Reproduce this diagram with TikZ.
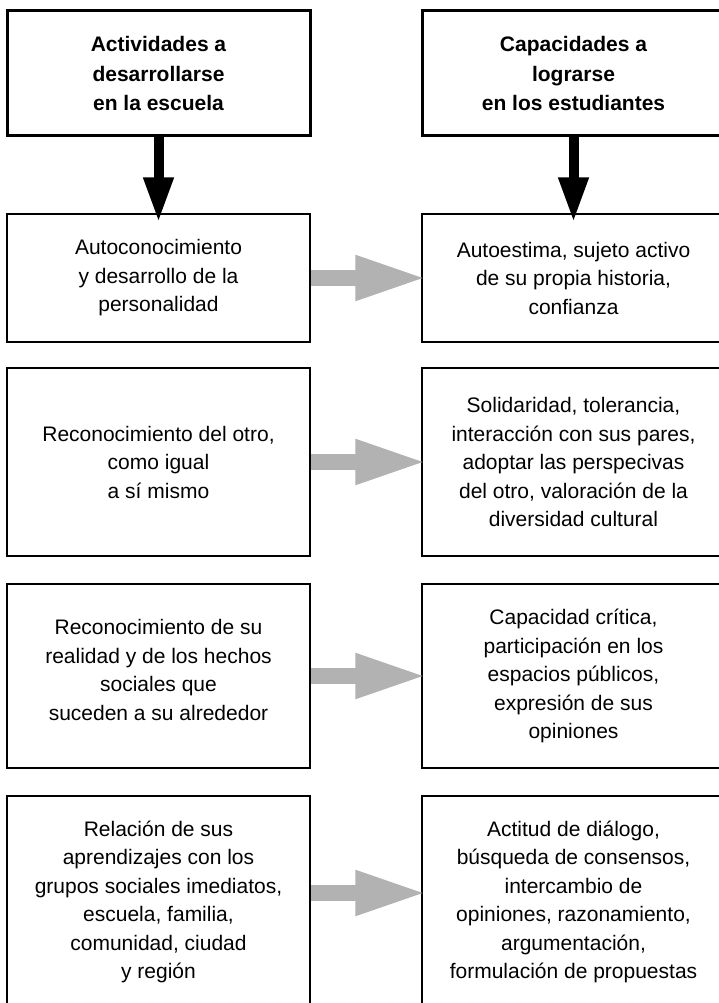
\documentclass[tikz,border=0pt]{standalone}
\usepackage{fontspec}
\setmainfont{Liberation Sans}
\usetikzlibrary{arrows.meta}
\definecolor{arrgray}{RGB}{178,178,178}
\begin{document}
\begin{tikzpicture}[x=1pt,y=-1pt,
  box/.style={draw, line width=1.2pt, minimum width=303pt, inner sep=0pt,
    align=center, font=\fontsize{21}{28.5}\selectfont},
  headbox/.style={draw, line width=3pt, minimum width=303pt, minimum height=125pt,
    inner sep=0pt, align=center, font=\bfseries\fontsize{21}{29.5}\selectfont},
  downarrow/.style={line width=10pt, line cap=butt, black,
    -{Triangle[length=45pt,width=28pt]}},
  sidearrow/.style={line width=16pt, line cap=butt, arrgray,
    -{Triangle[length=72pt,width=41pt]}}
]
\useasboundingbox (0,0) rectangle (719,1003);
\fill[white] (0,0) rectangle (719,1003);
\clip (0,0) rectangle (719,1003);

% headers
\node[headbox] (hl) at (158.5,73.5) {Actividades a\\desarrollarse\\en la escuela};
\node[headbox] (hr) at (573.5,73.5) {Capacidades a\\lograrse\\en los estudiantes};

% row 1
\node[box, minimum height=128pt] (l1) at (158.5,278) {Autoconocimiento\\y desarrollo de la\\personalidad};
\node[box, minimum height=128pt] (r1) at (573.5,278) {Autoestima, sujeto activo\\de su propia historia,\\confianza};

% row 2
\node[box, minimum height=188pt] (l2) at (158.5,462) {Reconocimiento del otro,\\como igual\\a sí mismo};
\node[box, minimum height=188pt] (r2) at (573.5,462) {Solidaridad, tolerancia,\\interacción con sus pares,\\adoptar las perspecivas\\del otro, valoración de la\\diversidad cultural};

% row 3
\node[box, minimum height=184pt] (l3) at (158.5,676) {Reconocimiento de su\\realidad y de los hechos\\sociales que\\suceden a su alrededor\\[-16pt]};
\node[box, minimum height=184pt] (r3) at (573.5,676) {Capacidad crítica,\\participación en los\\espacios públicos,\\expresión de sus\\opiniones};

% row 4
\node[box, minimum height=212pt] (l4) at (158.5,902) {Relación de sus\\aprendizajes con los\\grupos sociales imediatos,\\escuela, familia,\\comunidad, ciudad\\y región};
\node[box, minimum height=212pt] (r4) at (573.5,902) {Actitud de diálogo,\\búsqueda de consensos,\\intercambio de\\opiniones, razonamiento,\\argumentación,\\formulación de propuestas};

% arrows
\draw[downarrow] (hl.south) -- ([yshift=-9pt]l1.north);
\draw[downarrow] (hr.south) -- ([yshift=-9pt]r1.north);

\draw[sidearrow] (l1.east) -- ([xshift=6pt]r1.west);
\draw[sidearrow] (l2.east) -- ([xshift=6pt]r2.west);
\draw[sidearrow] (l3.east) -- ([xshift=6pt]r3.west);
\draw[sidearrow] ([yshift=9pt]l4.east) -- ([xshift=6pt,yshift=9pt]r4.west);
\end{tikzpicture}
\end{document}
